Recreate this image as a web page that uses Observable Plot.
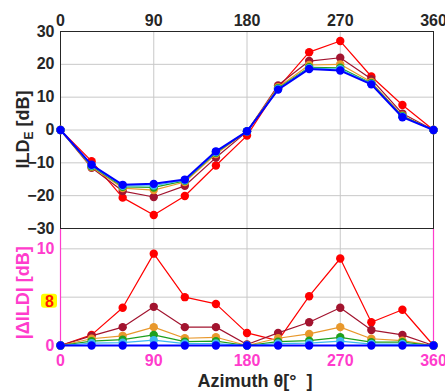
<!DOCTYPE html>
<html>
<head>
<meta charset="utf-8">
<script src="https://cdn.jsdelivr.net/npm/d3@7"></script>
<script src="https://cdn.jsdelivr.net/npm/@observablehq/plot@0.6"></script>
<style>
  html, body { margin: 0; padding: 0; background: white; }
  #chart { width: 445px; }
  #chart svg { display: block; }
</style>
</head>
<body>
<div id="chart"></div>
<script>
// ---- data ----
const azimuth = [0, 30, 60, 90, 120, 150, 180, 210, 240, 270, 300, 330, 360];
const xTicks = [0, 90, 180, 270, 360];
const yTicksTop = [-30, -20, -10, 0, 10, 20, 30];

// ILD_E [dB]
const ildRed    = [0, -9.5, -20.6, -25.9, -20.1, -10.8, -1.7, 12.8, 23.7, 27.1, 16.3, 7.6, 0];
const ildMaroon = [0, -11.5, -18.6, -20.4, -17.0, -8.4, -0.5, 13.6, 21.0, 22.0, 15.5, 5.0, 0];
const ildOrange = [0, -11.3, -17.7, -18.3, -15.85, -7.35, -0.4, 13.05, 19.8, 20.0, 14.6, 4.4, 0];
const ildGreen  = [0, -11.05, -17.3, -17.5, -15.5, -6.95, -0.4, 12.7, 19.1, 18.95, 14.25, 4.25, 0];
const ildCyan   = [0, -10.85, -17.0, -16.95, -15.3, -6.7, -0.4, 12.5, 18.85, 18.55, 14.05, 4.05, 0];
const ildBlue   = [0, -10.6, -16.7, -16.4, -15.1, -6.5, -0.4, 12.3, 18.6, 18.1, 13.9, 3.9, 0];

// |ΔILD| [dB]
const dRed    = [0, 1.1, 3.9, 9.5, 5.0, 4.3, 1.3, 0.5, 5.1, 9.0, 2.4, 3.7, 0];
const dMaroon = [0, 1.0, 1.9, 4.0, 1.9, 1.9, 0.1, 1.3, 2.4, 3.9, 1.6, 1.1, 0];
const dOrange = [0, 0.7, 1.0, 1.9, 0.75, 0.85, 0, 0.75, 1.2, 1.9, 0.7, 0.5, 0];
const dGreen  = [0, 0.45, 0.6, 1.1, 0.4, 0.45, 0, 0.4, 0.5, 0.85, 0.35, 0.35, 0];
const dCyan   = [0, 0.25, 0.3, 0.55, 0.2, 0.2, 0, 0.2, 0.25, 0.45, 0.15, 0.15, 0];
const dBlue   = [0, 0, 0, 0, 0, 0, 0, 0, 0, 0, 0, 0, 0];

const seriesColors = ["#ff0000", "#a2142f", "#e8982c", "#1ea01e", "#3cb8f0", "#0000ff"];
const ildSeries = [ildRed, ildMaroon, ildOrange, ildGreen, ildCyan, ildBlue];
const dSeries = [dRed, dMaroon, dOrange, dGreen, dCyan, dBlue];
const bottomYTicks = [0, 5, 10];
const bottomYLabels = ["0", "8", "10"];

const magenta = "#ff3ccc";
const font = "'Liberation Sans', Arial, Helvetica, sans-serif";

function rows(arr) { return azimuth.map((a, i) => ({az: a, v: arr[i]})); }

function seriesMarks(list) {
  const marks = [];
  list.forEach((arr, k) => {
    const data = rows(arr);
    const isBlue = k === list.length - 1;
    marks.push(Plot.line(data, {x: "az", y: "v", stroke: seriesColors[k], strokeWidth: isBlue ? 2 : 1.2}));
    marks.push(Plot.dot(data, {x: "az", y: "v", fill: seriesColors[k], r: 4.2}));
  });
  return marks;
}

// ---- top panel ----
const topChart = Plot.plot({
  width: 445, height: 229,
  marginTop: 31, marginBottom: 1, marginLeft: 60, marginRight: 12,
  style: {fontFamily: font, fontSize: "16px", fontWeight: "bold", color: "#262626", background: "white", overflow: "visible"},
  x: {domain: [0, 360], ticks: xTicks, axis: "top", label: null, tickSize: 0, tickPadding: 6},
  y: {domain: [-30, 30], ticks: yTicksTop, label: null, tickSize: 0, tickPadding: 6},
  marks: [
    Plot.gridX(xTicks.slice(1, -1), {stroke: "#c8c8c8", strokeOpacity: 1}),
    Plot.gridY(yTicksTop.slice(1, -1), {stroke: "#c8c8c8", strokeOpacity: 1}),
    Plot.frame({stroke: "#262626", strokeWidth: 1}),
    ...seriesMarks(ildSeries)
  ]
});

// ---- bottom panel ----
const bottomChart = Plot.plot({
  width: 445, height: 163,
  marginTop: 0, marginBottom: 47, marginLeft: 60, marginRight: 12,
  style: {fontFamily: font, fontSize: "16px", fontWeight: "bold", color: magenta, background: "white", overflow: "visible"},
  x: {domain: [0, 360], ticks: xTicks, label: null, tickSize: 0, tickPadding: 9},
  y: {domain: [0, 12], ticks: bottomYTicks, label: null, tickSize: 0, tickPadding: 6,
      tickFormat: d => d === 5 ? "" : bottomYLabels[bottomYTicks.indexOf(d)]},
  marks: [
    Plot.gridX(xTicks.slice(1, -1), {stroke: "#c8c8c8", strokeOpacity: 1}),
    Plot.gridY([5, 10], {stroke: "#c8c8c8", strokeOpacity: 1}),
    Plot.ruleX([0, 360], {stroke: magenta, strokeWidth: 1.2}),
    Plot.ruleY([0], {stroke: magenta}),
    ...seriesMarks(dSeries)
  ]
});

const container = document.getElementById("chart");
container.appendChild(topChart);
container.appendChild(bottomChart);

// Top y label: ILD_E [dB]
const tsvg = d3.select(topChart);
const tl = tsvg.append("text")
  .attr("transform", `translate(29, ${(31 + 228) / 2}) rotate(-90)`)
  .attr("text-anchor", "middle")
  .attr("fill", "#262626")
  .style("font", `bold 18px ${font}`);
tl.append("tspan").text("ILD");
tl.append("tspan").attr("dy", 4).style("font-size", "12px").text("E");
tl.append("tspan").attr("dy", -4).text(" [dB]");

// Bottom y label and x label
const bsvg = d3.select(bottomChart);
const yB = bottomChart.scale("y");
bsvg.append("text")
  .attr("transform", `translate(29, ${yB.apply(5.4)}) rotate(-90)`)
  .attr("text-anchor", "middle")
  .attr("fill", magenta)
  .style("font", `bold 18px ${font}`)
  .text("|ΔILD| [dB]");

bsvg.append("text")
  .attr("x", 255)
  .attr("y", 158)
  .attr("text-anchor", "middle")
  .attr("fill", "#262626")
  .style("font", `bold 18px ${font}`)
  .text("Azimuth θ[°  ]");

// highlighted "8" tick label
const y5 = yB.apply(5);
bsvg.append("rect")
  .attr("x", 41).attr("y", y5 - 3).attr("width", 16).attr("height", 14)
  .attr("rx", 3)
  .attr("fill", "#ffff00");
bsvg.append("text")
  .attr("x", 49.5).attr("y", y5 + 10)
  .attr("text-anchor", "middle")
  .attr("fill", "#ff1a00")
  .style("font", `bold 16px ${font}`)
  .text(bottomYLabels[1]);
</script>
</body>
</html>
